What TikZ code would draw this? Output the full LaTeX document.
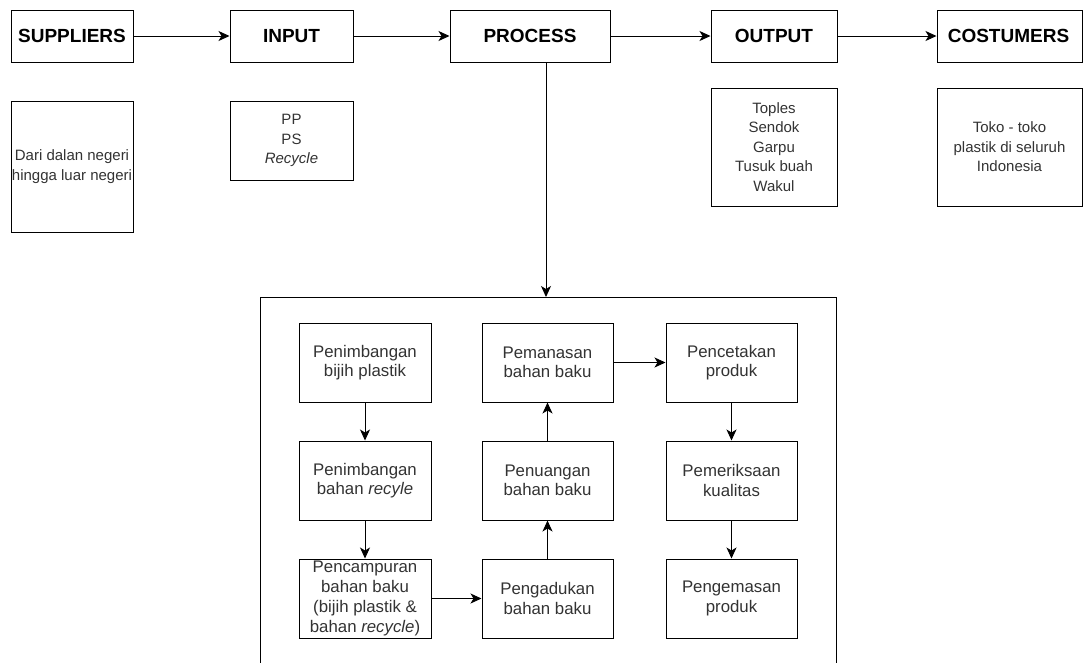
\documentclass[tikz,border=0pt]{standalone}
\usepackage{fontspec}
\setmainfont{Liberation Sans}
\usetikzlibrary{arrows.meta,calc}
\definecolor{txt}{RGB}{51,51,51}
\tikzset{
  box/.style={draw=black, line width=1pt, fill=white, inner sep=0pt, align=center},
  title/.style={box, font=\fontsize{19}{22}\selectfont\bfseries, text=black, minimum height=52pt},
  desc/.style={box, font=\fontsize{15}{19.5}\selectfont, text=txt},
  stepbox/.style={box, font=\fontsize{16.8}{19.5}\selectfont, text=txt, minimum width=132pt, minimum height=79pt},
  arr/.style={line width=1pt, -{Stealth[length=11pt,width=10pt,inset=3pt]}}
}
\begin{document}
\begin{tikzpicture}[x=1pt,y=-1pt]
\useasboundingbox (0,0) rectangle (1084,662);
\clip (0,0) rectangle (1084,662);
\fill[white] (0,0) rectangle (1084,662);
% top row
\node[title, minimum width=122pt] (sup) at (72,36) {SUPPLIERS};
\node[title, minimum width=123pt] (inp) at (291.5,36) {INPUT};
\node[title, minimum width=160pt] (proc) at (530,36) {PROCESS};
\node[title, minimum width=126pt] (out) at (774,36) {OUTPUT};
\node[title, minimum width=145pt, text width=145pt] (cos) at (1009.5,36) {\hspace*{-2pt}COSTUMERS};
% description row
\node[desc, minimum width=122pt, minimum height=131pt] (dari) at (72,166.5) {Dari dalan negeri\\hingga luar negeri};
\node[desc, minimum width=123pt, minimum height=79pt] (pp) at (291.5,140.5) {PP\\PS\\\textit{Recycle}};
\node[desc, minimum width=126pt, minimum height=118pt] (top) at (774,147) {Toples\\Sendok\\Garpu\\Tusuk buah\\Wakul};
\node[desc, minimum width=145pt, minimum height=118pt] (toko) at (1009.5,147) {Toko - toko\\plastik di seluruh\\Indonesia};
% arrows top
\draw[arr] (sup) -- (inp);
\draw[arr] (inp) -- (proc);
\draw[arr] (proc) -- (out);
\draw[arr] (out) -- (cos);
% big process frame
\coordinate (pin) at (546,297);
\draw[line width=1pt] (260,680) -- (260,297) -- (836,297) -- (836,680);
\draw[arr] (proc.south -| pin) -- (pin);
% inner steps
\node[stepbox] (a1) at (365,362.5) {Penimbangan\\bijih plastik};
\node[stepbox] (a2) at (365,480.5) {Penimbangan\\bahan \textit{recyle}};
\node[stepbox, font=\fontsize{16.8}{19.8}\selectfont] (a3) at (365,598.5) {Pencampuran\\bahan baku\\(bijih plastik \&\\bahan \textit{recycle})};
\node[stepbox, minimum width=131pt] (b3) at (547.5,598.5) {Pengadukan\\bahan baku};
\node[stepbox, minimum width=131pt] (b2) at (547.5,480.5) {Penuangan\\bahan baku};
\node[stepbox, minimum width=131pt] (b1) at (547.5,362.5) {Pemanasan\\bahan baku};
\node[stepbox, minimum width=131pt] (c1) at (731.5,362.5) {Pencetakan\\produk};
\node[stepbox, minimum width=131pt] (c2) at (731.5,480.5) {Pemeriksaan\\kualitas};
\node[stepbox, minimum width=131pt] (c3) at (731.5,598.5) {Pengemasan\\produk};
\draw[arr] (a1) -- (a2);
\draw[arr] (a2) -- (a3);
\draw[arr] (a3) -- (b3);
\draw[arr] (b3) -- (b2);
\draw[arr] (b2) -- (b1);
\draw[arr] (b1) -- (c1);
\draw[arr] (c1) -- (c2);
\draw[arr] (c2) -- (c3);
\end{tikzpicture}
\end{document}
